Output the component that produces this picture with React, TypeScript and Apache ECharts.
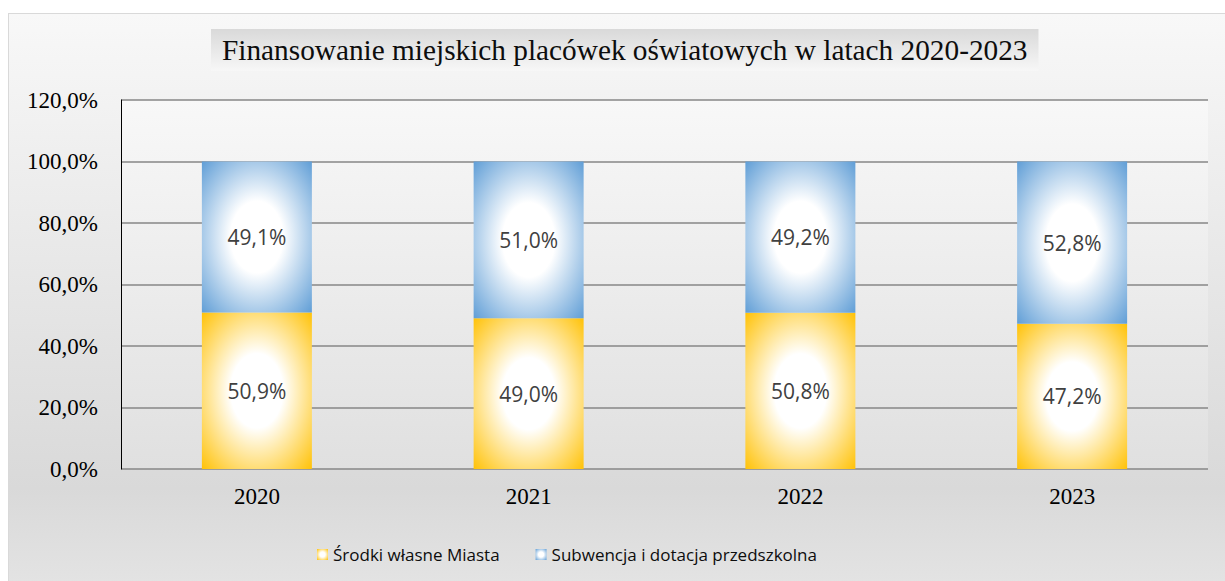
import React, { useEffect, useRef } from "react";
import * as echarts from "echarts";

const titleText = "Finansowanie miejskich placówek oświatowych w latach 2020-2023";
const years = ["2020", "2021", "2022", "2023"];
const ownFunds = [50.9, 49.0, 50.8, 47.2];
const subsidy = [49.1, 51.0, 49.2, 52.8];
const seriesNames = ["Środki własne Miasta", "Subwencja i dotacja przedszkolna"];

const fmt = (v: number) => v.toFixed(1).replace(".", ",") + "%";

const radial = (edge: string) => ({
  type: "radial",
  x: 0.5,
  y: 0.5,
  r: 0.72,
  colorStops: [
    { offset: 0, color: "#ffffff" },
    { offset: 0.33, color: "#ffffff" },
    { offset: 1, color: edge },
  ],
  global: false,
});

export default function App() {
  const ref = useRef<HTMLDivElement>(null);
  useEffect(() => {
    if (!ref.current) return;
    const chart = echarts.init(ref.current, undefined, { renderer: "svg" });
    const labelStyle = {
      show: true,
      position: "inside",
      fontFamily: "Open Sans",
      fontSize: 21,
      color: "#404040",
      formatter: (p: any) => fmt(p.value),
    };
    chart.setOption({
      animation: false,
      backgroundColor: "transparent",
      title: {
        text: titleText,
        left: 211,
        top: 29,
        padding: [6, 11, 6, 11],
        backgroundColor: {
          type: "linear",
          x: 0,
          y: 0,
          x2: 0,
          y2: 1,
          colorStops: [
            { offset: 0, color: "#d9d9d9" },
            { offset: 1, color: "#f7f7f7" },
          ],
        },
        textStyle: {
          fontFamily: "Liberation Serif",
          fontSize: 29.3,
          fontWeight: "normal",
          color: "#0d0d0d",
          lineHeight: 30,
        },
      },
      legend: {
        left: 312,
        top: 541,
        itemWidth: 11,
        itemHeight: 11,
        itemGap: 36,
        icon: "rect",
        textStyle: { fontFamily: "Open Sans", fontSize: 17, color: "#0d0d0d" },
        data: seriesNames,
      },
      grid: {
        left: 121,
        right: 17,
        top: 100,
        bottom: 112,
        show: true,
        borderWidth: 0,
        backgroundColor: {
          type: "linear",
          x: 0,
          y: 0,
          x2: 0,
          y2: 1,
          colorStops: [
            { offset: 0, color: "#f8f8f8" },
            { offset: 1, color: "#e0e0e0" },
          ],
        },
      },
      xAxis: {
        type: "category",
        data: years,
        axisLine: { show: false },
        axisTick: { show: false },
        axisLabel: {
          margin: 16,
          fontFamily: "Liberation Serif",
          fontSize: 23,
          color: "#000000",
        },
      },
      yAxis: {
        type: "value",
        min: 0,
        max: 120,
        interval: 20,
        axisLine: { show: true, lineStyle: { color: "#000000", width: 1 } },
        axisTick: { show: false },
        splitLine: { lineStyle: { color: "#878787", width: 1.5 } },
        axisLabel: {
          margin: 23,
          fontFamily: "Liberation Serif",
          fontSize: 23,
          color: "#000000",
          formatter: (v: number) => fmt(v),
        },
      },
      series: [
        {
          name: seriesNames[0],
          type: "bar",
          stack: "total",
          barWidth: 110,
          data: ownFunds,
          itemStyle: { color: radial("#ffc000") },
          label: labelStyle,
        },
        {
          name: seriesNames[1],
          type: "bar",
          stack: "total",
          barWidth: 110,
          data: subsidy,
          itemStyle: { color: radial("#5b9bd5") },
          label: labelStyle,
        },
      ],
    });
    return () => chart.dispose();
  }, []);

  return (
    <div
      style={{
        position: "fixed",
        left: 0,
        top: 0,
        width: 1225,
        height: 581,
        background: "#ffffff",
        overflow: "hidden",
      }}
    >
      <div
        style={{
          position: "absolute",
          left: 8,
          top: 13,
          width: 1230,
          height: 580,
          border: "1px solid #d9d9d9",
          boxSizing: "border-box",
          background:
            "linear-gradient(to bottom, #f8f8f8 0%, #d9d9d9 82%, #e4e4e4 100%)",
        }}
      />
      <div
        ref={ref}
        style={{ position: "absolute", left: 0, top: 0, width: 1225, height: 581 }}
      />
    </div>
  );
}
